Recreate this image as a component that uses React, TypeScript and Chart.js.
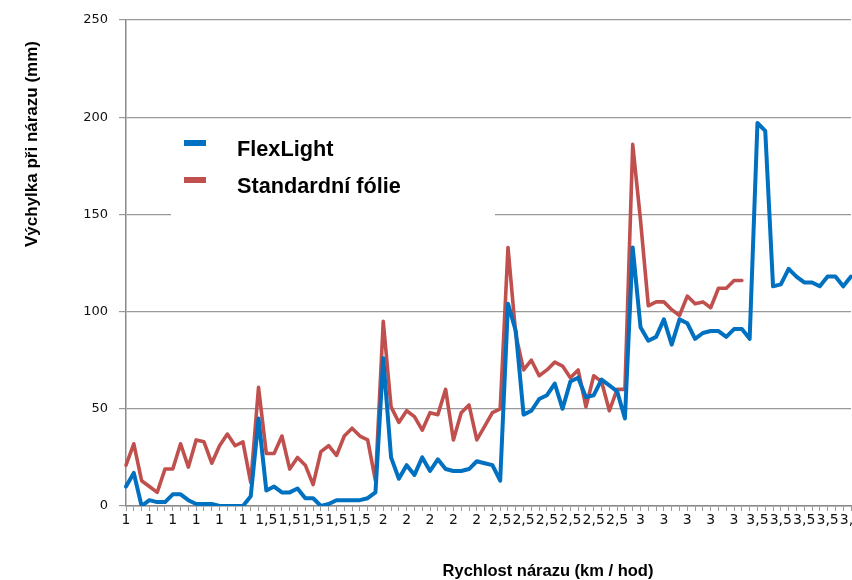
import React, { useEffect, useRef } from "react";
import { Chart, registerables } from "chart.js";

Chart.register(...registerables);

const speedGroups = ["1", "1,5", "2", "2,5", "3", "3,5"];
const groupSizes = [17, 16, 15, 17, 16, 13];

const flexLight = [
  10, 17, 0, 3, 2, 2, 6, 6, 3, 1, 1, 1, 0, 0, 0, 0, 5,
  45, 8, 10, 7, 7, 9, 4, 4, 0, 1, 3, 3, 3, 3, 4, 7,
  76, 25, 14, 21, 16, 25, 18, 24, 19, 18, 18, 19, 23, 22, 21, 13,
  104, 90, 47, 49, 55, 57, 63, 50, 64, 66, 56, 57, 65, 62, 59, 45,
  133, 92, 85, 87, 96, 83, 96, 94, 86, 89, 90, 90, 87, 91, 91, 86,
  197, 193, 113, 114, 122, 118, 115, 115, 113, 118, 118, 113, 118,
];

const standardFolie = [
  21, 32, 13, 10, 7, 19, 19, 32, 20, 34, 33, 22, 31, 37, 31, 33, 12,
  61, 27, 27, 36, 19, 25, 21, 11, 28, 31, 26, 36, 40, 36, 34, 13,
  95, 51, 43, 49, 46, 39, 48, 47, 60, 34, 48, 52, 34, 41, 48, 50,
  133, 88, 70, 75, 67, 70, 74, 72, 66, 70, 51, 67, 64, 49, 60, 60,
  186, 147, 103, 105, 105, 101, 98, 108, 104, 105, 102, 112, 112, 116, 116,
];

const seriesNames = ["FlexLight", "Standardní fólie"];
const xTitle = "Rychlost nárazu (km / hod)";
const yTitle = "Výchylka při nárazu (mm)";
const yMin = 0;
const yMax = 250;
const yStep = 50;
const labelEvery = 3;

const categories: string[] = [];
speedGroups.forEach((g, i) => {
  for (let k = 0; k < groupSizes[i]; k++) categories.push(g);
});

const BLUE = "#0070C0";
const RED = "#C0504D";
const FONT = '"Liberation Sans", Arial, sans-serif';
const TICK_FONT = '"DejaVu Sans", sans-serif';

const overlayPlugin = {
  id: "overlay",
  beforeDatasetsDraw(chart: any) {
    const { ctx, chartArea } = chart;
    const lx = chartArea.left + 45;
    const ly = chartArea.top + 101;
    ctx.save();
    ctx.fillStyle = "#ffffff";
    ctx.fillRect(lx, ly, 324, 106);
    const items = [
      { name: seriesNames[0], color: BLUE, dy: 29 },
      { name: seriesNames[1], color: RED, dy: 66 },
    ];
    items.forEach((it) => {
      ctx.strokeStyle = it.color;
      ctx.lineWidth = 6;
      ctx.lineCap = "butt";
      ctx.beginPath();
      ctx.moveTo(lx + 13, ly + it.dy - 7);
      ctx.lineTo(lx + 35, ly + it.dy - 7);
      ctx.stroke();
      ctx.fillStyle = "#000000";
      ctx.font = `bold 21.7px ${FONT}`;
      ctx.textAlign = "left";
      ctx.textBaseline = "middle";
      ctx.fillText(it.name, lx + 66, ly + it.dy);
    });
    ctx.restore();
  },
  afterDraw(chart: any) {
    const { ctx } = chart;
    ctx.save();
    ctx.fillStyle = "#000000";
    ctx.textAlign = "center";
    ctx.textBaseline = "middle";
    ctx.font = `bold 16.5px ${FONT}`;
    ctx.fillText(xTitle, 548, 571);
    ctx.font = `bold 17px ${FONT}`;
    ctx.translate(32, 144);
    ctx.rotate(-Math.PI / 2);
    ctx.fillText(yTitle, 0, 0);
    ctx.restore();
  },
};

export default function App() {
  const ref = useRef<HTMLCanvasElement | null>(null);

  useEffect(() => {
    if (!ref.current) return;
    const chart = new Chart(ref.current, {
      type: "line",
      data: {
        labels: categories,
        datasets: [
          {
            label: seriesNames[0],
            data: flexLight,
            borderColor: BLUE,
            backgroundColor: BLUE,
            borderWidth: 4,
            pointRadius: 0,
            tension: 0,
            borderJoinStyle: "round",
            borderCapStyle: "round",
          },
          {
            label: seriesNames[1],
            data: standardFolie,
            borderColor: RED,
            backgroundColor: RED,
            borderWidth: 3.6,
            pointRadius: 0,
            tension: 0,
            borderJoinStyle: "round",
            borderCapStyle: "round",
          },
        ],
      },
      options: {
        responsive: false,
        animation: false,
        devicePixelRatio: 1,
        layout: { padding: { left: 0, right: 29, top: 20, bottom: 44 } },
        plugins: {
          legend: { display: false },
          tooltip: { enabled: false },
          title: { display: false },
        },
        scales: {
          x: {
            type: "category",
            offset: false,
            afterFit: (s: any) => {
              s.height = 30;
            },
            grid: {
              display: true,
              drawOnChartArea: false,
              drawTicks: true,
              tickLength: 5,
              color: "#9a9a9a",
            },
            border: { display: true, color: "#8a8a8a", width: 1.5 },
            ticks: {
              autoSkip: false,
              maxRotation: 0,
              minRotation: 0,
              padding: 1,
              color: "#111111",
              font: { family: TICK_FONT, size: 14 },
              callback: (_v: any, i: number) => (i % labelEvery === 0 ? categories[i] : ""),
            },
          },
          y: {
            min: yMin,
            max: yMax,
            afterFit: (s: any) => {
              s.width = 126;
            },
            grid: {
              color: "#9a9a9a",
              lineWidth: 1.2,
              drawTicks: true,
              tickLength: 7,
            },
            border: { display: true, color: "#8a8a8a", width: 1.5 },
            ticks: {
              stepSize: yStep,
              padding: 11,
              color: "#111111",
              font: { family: TICK_FONT, size: 13 },
            },
          },
        },
      },
      plugins: [overlayPlugin],
    });
    return () => chart.destroy();
  }, []);

  return (
    <div
      style={{
        position: "fixed",
        left: 0,
        top: 0,
        width: 852,
        height: 580,
        overflow: "hidden",
        background: "#ffffff",
      }}
    >
      <canvas ref={ref} width={880} height={580} style={{ display: "block" }} />
    </div>
  );
}
